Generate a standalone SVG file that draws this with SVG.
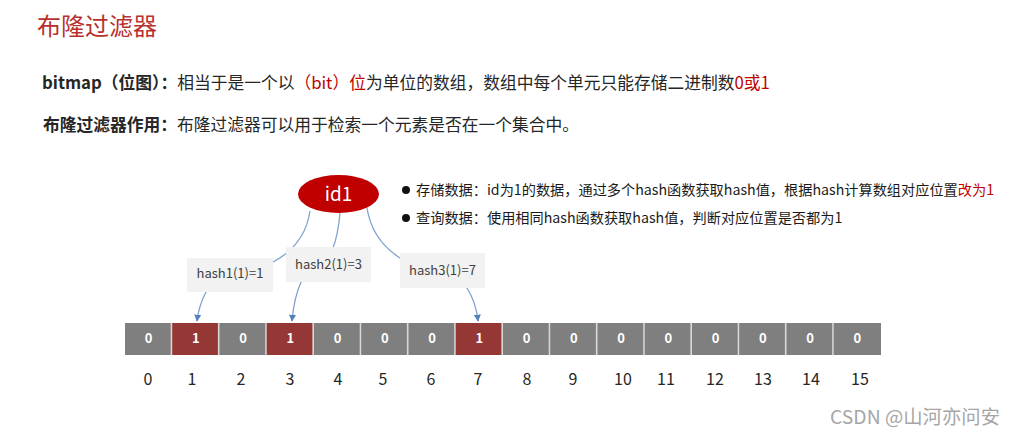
<svg xmlns="http://www.w3.org/2000/svg" width="1016" height="437" viewBox="0 0 1016 437">
<defs>
<marker id="arr" viewBox="0 0 10 10" refX="9" refY="5" markerWidth="7" markerHeight="7" markerUnits="userSpaceOnUse" orient="auto">
<path d="M0,0 L10,5 L0,10 z" fill="#4f81bd"/>
</marker>
<style>
text{font-family:"Noto Sans CJK SC","Microsoft YaHei",sans-serif;}
.t2{font-size:16.75px;fill:#262626;}
.b{font-weight:bold;}
.red{fill:#c00000;}
.bul{font-size:14.2px;fill:#1a1a1a;}
.lbl{fill:#f2f2f2;}
.lt{font-size:13px;fill:#404040;text-anchor:middle;}
.cg{fill:#7f7f7f;}
.cr{fill:#953735;}
.cv{font-size:13px;font-weight:bold;fill:#ffffff;text-anchor:middle;}
.idx{font-size:16px;fill:#262626;text-anchor:middle;}
.con{fill:none;stroke:#7ea3cc;stroke-width:1.3;marker-end:url(#arr);}
</style>
</defs>
<rect width="1016" height="437" fill="#ffffff"/>
<text x="37" y="35" font-size="24" fill="#b8312f">布隆过滤器</text>
<text x="42" y="89" class="t2"><tspan class="b">bitmap（位图）：</tspan>相当于是一个以<tspan class="red">（bit）位</tspan>为单位的数组，数组中每个单元只能存储二进制数<tspan class="red">0或1</tspan></text>
<text x="43" y="131" class="t2"><tspan class="b">布隆过滤器作用：</tspan>布隆过滤器可以用于检索一个元素是否在一个集合中。</text>
<g id="bullets">
<circle cx="406" cy="190" r="4" fill="#111"/>
<text x="416" y="195" class="bul">存储数据：id为1的数据，通过多个hash函数获取hash值，根据hash计算数组对应位置<tspan class="red">改为1</tspan></text>
<circle cx="406" cy="218" r="4" fill="#111"/>
<text x="416" y="223" class="bul">查询数据：使用相同hash函数获取hash值，判断对应位置是否都为1</text>
</g>
<g id="connectors">
<path class="con" d="M310,211 Q305,245 273,262 L206,292 Q199,305 197,321"/>
<path class="con" d="M340,213 Q338,235 333,248 L301,282 Q294,298 292,321"/>
<path class="con" d="M367,208 Q372,240 400,258 L467,288 Q476,302 478,321"/>
</g>
<g id="id1">
<ellipse cx="338.5" cy="194" rx="40.5" ry="19" fill="#c00000"/>
<text x="338.5" y="201" font-size="19" fill="#ffffff" text-anchor="middle">id1</text>
</g>
<g id="hash1">
<rect class="lbl" x="187" y="258" width="86" height="34"/>
<text class="lt" x="230" y="278">hash1(1)=1</text>
</g>
<g id="hash2">
<rect class="lbl" x="286" y="247" width="85" height="35"/>
<text class="lt" x="328.5" y="269">hash2(1)=3</text>
</g>
<g id="hash3">
<rect class="lbl" x="400" y="253" width="85" height="35"/>
<text class="lt" x="442.5" y="275">hash3(1)=7</text>
</g>
<g id="bitarray">
<rect x="125" y="323" width="756" height="32" fill="#d9d9d9"/>
<rect class="cg" x="125" y="323" width="45.7" height="32"/>
<rect class="cr" x="172.2" y="323" width="45.7" height="32"/>
<rect class="cg" x="219.5" y="323" width="45.7" height="32"/>
<rect class="cr" x="266.7" y="323" width="45.7" height="32"/>
<rect class="cg" x="314" y="323" width="45.7" height="32"/>
<rect class="cg" x="361.2" y="323" width="45.7" height="32"/>
<rect class="cg" x="408.5" y="323" width="45.7" height="32"/>
<rect class="cr" x="455.7" y="323" width="45.7" height="32"/>
<rect class="cg" x="503" y="323" width="45.7" height="32"/>
<rect class="cg" x="550.2" y="323" width="45.7" height="32"/>
<rect class="cg" x="597.5" y="323" width="45.7" height="32"/>
<rect class="cg" x="644.7" y="323" width="45.7" height="32"/>
<rect class="cg" x="692" y="323" width="45.7" height="32"/>
<rect class="cg" x="739.2" y="323" width="45.7" height="32"/>
<rect class="cg" x="786.5" y="323" width="45.7" height="32"/>
<rect class="cg" x="833.7" y="323" width="47.3" height="32"/>
<text class="cv" x="148.6" y="343">0</text>
<text class="cv" x="195.9" y="343">1</text>
<text class="cv" x="243.1" y="343">0</text>
<text class="cv" x="290.4" y="343">1</text>
<text class="cv" x="337.6" y="343">0</text>
<text class="cv" x="384.9" y="343">0</text>
<text class="cv" x="432.1" y="343">0</text>
<text class="cv" x="479.4" y="343">1</text>
<text class="cv" x="526.6" y="343">0</text>
<text class="cv" x="573.9" y="343">0</text>
<text class="cv" x="621.1" y="343">0</text>
<text class="cv" x="668.4" y="343">0</text>
<text class="cv" x="715.6" y="343">0</text>
<text class="cv" x="762.9" y="343">0</text>
<text class="cv" x="810.1" y="343">0</text>
<text class="cv" x="857.4" y="343">0</text>
</g>
<g id="indices">
<text class="idx" x="148" y="385">0</text>
<text class="idx" x="192" y="385">1</text>
<text class="idx" x="241" y="385">2</text>
<text class="idx" x="290" y="385">3</text>
<text class="idx" x="338" y="385">4</text>
<text class="idx" x="383" y="385">5</text>
<text class="idx" x="431" y="385">6</text>
<text class="idx" x="478" y="385">7</text>
<text class="idx" x="527" y="385">8</text>
<text class="idx" x="573" y="385">9</text>
<text class="idx" x="623" y="385">10</text>
<text class="idx" x="666" y="385">11</text>
<text class="idx" x="715" y="385">12</text>
<text class="idx" x="763" y="385">13</text>
<text class="idx" x="811" y="385">14</text>
<text class="idx" x="860" y="385">15</text>
</g>
<text x="830" y="424" font-size="19" fill="#a6a6a6" textLength="170" lengthAdjust="spacingAndGlyphs">CSDN @山河亦问安</text>
</svg>
